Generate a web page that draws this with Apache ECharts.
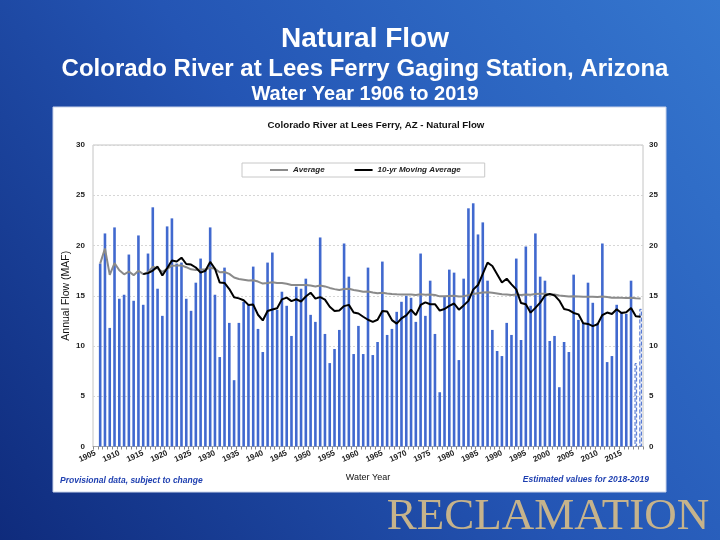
<!DOCTYPE html>
<html>
<head>
<meta charset="utf-8">
<script src="https://cdn.jsdelivr.net/npm/echarts@6/dist/echarts.min.js"></script>
<style>
html,body{margin:0;padding:0;width:720px;height:540px;overflow:hidden;}
#c{width:720px;height:540px;}
</style>
</head>
<body>
<div id="c"></div>
<script>
// ---- data ----
const firstYear = 1905, lastYear = 2019;
const years = [];
for (let y = firstYear; y <= lastYear; y++) years.push(String(y));

// Annual natural flow (MAF), water years 1906-2019
const flow = [
 18.2,21.2,11.8,21.8,14.7,15.1,19.1,14.5,21.0,14.1,
 19.2,23.8,15.7,13.0,21.9,22.7,18.2,18.3,14.7,13.5,
 16.3,18.7,17.6,21.8,15.1,8.9,17.8,12.3,6.6,12.3,
 14.4,14.1,17.9,11.7,9.4,18.3,19.3,13.6,15.4,14.0,
 11.0,15.9,15.7,16.7,13.1,12.4,20.8,11.2,8.3,9.7,
 11.6,20.2,16.9,9.2,12.0,9.2,17.8,9.1,10.4,18.4,
 11.1,11.7,13.4,14.4,15.0,14.8,12.4,19.2,13.0,16.5,
 11.2,5.4,14.9,17.6,17.3,8.6,16.7,23.7,24.2,21.1,
 22.3,16.5,11.6,9.5,9.0,12.3,11.1,18.7,10.6,19.9,
 14.0,21.2,16.9,16.5,10.5,11.0,5.9,10.4,9.4,17.1,
 12.6,12.3,16.3,14.3,12.3,20.2,8.4,9.0,14.1,13.4,
 13.2,16.5,8.3,13.7
];
// Gray "Average" line, 1906-2019
const average = [
 18.20,19.70,17.07,18.25,17.54,17.13,17.41,17.05,17.49,17.15,
 17.34,17.88,17.71,17.37,17.67,17.99,18.00,18.02,17.84,17.63,
 17.56,17.61,17.61,17.79,17.68,17.34,17.36,17.18,16.81,16.66,
 16.59,16.51,16.55,16.41,16.21,16.27,16.35,16.28,16.26,16.20,
 16.07,16.07,16.06,16.08,16.01,15.93,16.03,15.93,15.78,15.66,
 15.58,15.67,15.69,15.57,15.50,15.39,15.43,15.32,15.24,15.29,
 15.22,15.17,15.14,15.13,15.13,15.12,15.08,15.14,15.11,15.13,
 15.07,14.94,14.94,14.98,15.01,14.92,14.95,15.06,15.17,15.25,
 15.33,15.35,15.30,15.23,15.16,15.13,15.08,15.12,15.07,15.13,
 15.11,15.18,15.20,15.21,15.16,15.12,15.02,14.98,14.92,14.94,
 14.92,14.89,14.91,14.90,14.88,14.93,14.87,14.81,14.81,14.79,
 14.78,14.79,14.74,14.73
];
// Black "10-yr Moving Average" line, 1915-2019
const movingAvg = [
 17.15,17.25,17.51,17.90,17.02,17.74,18.50,18.41,18.79,18.16,
 18.10,17.81,17.30,17.49,18.37,17.69,16.31,16.27,15.67,14.86,
 14.74,14.55,14.09,14.12,13.11,12.54,13.48,13.63,13.76,14.64,
 14.81,14.47,14.65,14.43,14.93,15.30,14.71,14.86,14.62,13.91,
 13.48,13.54,13.97,14.09,13.34,13.23,12.91,12.61,12.40,12.61,
 13.48,13.43,12.58,12.23,12.75,13.05,13.61,13.07,14.08,14.34,
 14.15,14.16,13.53,13.68,14.00,14.23,13.61,14.04,14.49,15.61,
 16.07,17.18,18.29,17.96,17.15,16.32,16.69,16.13,15.63,14.27,
 14.15,13.32,13.79,14.32,15.02,15.17,15.04,14.52,13.69,13.57,
 13.29,13.15,12.26,12.20,11.98,12.16,13.08,13.33,13.19,13.66,
 13.29,13.35,13.77,12.97,12.91
];
const estimatedYears = ['2018','2019'];
const yTicks = [0,5,10,15,20,25,30];

// ---- build series data aligned to the category axis ----
const barColor = '#4169cf';
const barData = years.map(function(y){
  const i = Number(y) - 1906;
  if (i < 0) return null;
  const v = flow[i];
  if (estimatedYears.indexOf(y) >= 0) {
    return {value: v, itemStyle: {color: '#e4eaf8', borderColor: '#4a70d0', borderWidth: 1, borderType: 'dashed'}};
  }
  return v;
});
const avgData = years.map(function(y){
  const i = Number(y) - 1906;
  return i < 0 ? null : average[i];
});
const maData = years.map(function(y){
  const i = Number(y) - 1915;
  return i < 0 ? null : movingAvg[i];
});

const chart = echarts.init(document.getElementById('c'), null, {renderer: 'canvas'});
const F = 'Liberation Sans, Arial, sans-serif';
chart.setOption({
  backgroundColor: new echarts.graphic.LinearGradient(0, 1, 1, 0, [
    {offset: 0, color: '#0f2b7c'},
    {offset: 0.5, color: '#2455b4'},
    {offset: 1, color: '#3577cf'}
  ]),
  animation: false,
  title: [
    {text: 'Natural Flow', left: 360, textAlign: 'center', top: 20,
     textStyle: {color: '#fff', fontSize: 28, fontWeight: 'bold', fontFamily: F}},
    {text: 'Colorado River at Lees Ferry Gaging Station, Arizona', left: 360, textAlign: 'center', top: 52,
     textStyle: {color: '#fff', fontSize: 24, fontWeight: 'bold', fontFamily: F}},
    {text: 'Water Year 1906 to 2019', left: 360, textAlign: 'center', top: 79,
     textStyle: {color: '#fff', fontSize: 20, fontWeight: 'bold', fontFamily: F}},
    {text: 'Colorado River at Lees Ferry, AZ - Natural Flow', left: 371, textAlign: 'center', top: 115,
     textStyle: {color: '#111', fontSize: 9.7, fontWeight: 'bold', fontFamily: F}}
  ],
  graphic: [
    {type: 'rect', z: -100, shape: {x: 53, y: 107, width: 613, height: 385},
     style: {fill: '#ffffff', stroke: '#c9d3ea', lineWidth: 1}},
    {type: 'text', z: 100, style: {text: 'Provisional data, subject to change', x: 60, y: 481,
     font: 'italic bold 8.5px ' + F, fill: '#1e3fb0', verticalAlign: 'middle', align: 'left'}},
    {type: 'text', z: 100, style: {text: 'Estimated values for 2018-2019', x: 649, y: 480,
     font: 'italic bold 8.5px ' + F, fill: '#1e3fb0', verticalAlign: 'middle', align: 'right'}},
    {type: 'text', z: 100, style: {text: 'RECLAMATION', x: 548, y: 517,
     font: '45px Liberation Serif, Times New Roman, serif', fill: '#c6b38b', verticalAlign: 'middle', align: 'center'}}
  ],
  legend: {
    data: ['Average', '10-yr Moving Average'],
    left: 242, top: 163,
    backgroundColor: '#ffffff',
    borderColor: '#c8c8c8', borderWidth: 1,
    padding: [3, 24, 3, 28],
    icon: 'rect',
    itemGap: 30, itemWidth: 18, itemHeight: 2,
    textStyle: {fontSize: 8, fontStyle: 'italic', fontWeight: 'bold', color: '#222', fontFamily: F}
  },
  grid: {left: 93, right: 77, top: 145, bottom: 93.5, show: true, borderColor: '#c4c4c4', borderWidth: 1, backgroundColor: 'transparent'},
  xAxis: {
    type: 'category', data: years,
    name: 'Water Year', nameLocation: 'middle', nameGap: 27,
    nameTextStyle: {fontSize: 9, color: '#111', fontFamily: F},
    axisLine: {lineStyle: {color: '#aaa'}},
    axisTick: {show: true, interval: 0, length: 3, lineStyle: {color: '#888'}},
    axisLabel: {interval: 4, rotate: 25, fontSize: 8, fontWeight: 'bold', color: '#222', fontFamily: F, margin: 6},
    splitLine: {show: false}
  },
  yAxis: [
    {type: 'value', min: yTicks[0], max: yTicks[yTicks.length - 1], interval: 5, position: 'left',
     name: 'Annual Flow (MAF)', nameLocation: 'middle', nameGap: 21, nameMoveOverlap: false,
     nameTextStyle: {fontSize: 10.5, color: '#111', fontFamily: F},
     axisLine: {show: false}, axisTick: {show: false},
     axisLabel: {fontSize: 8, fontWeight: 'bold', color: '#222', fontFamily: F, margin: 8},
     splitLine: {lineStyle: {color: '#d6d6d6', type: [2, 2]}}},
    {type: 'value', min: yTicks[0], max: yTicks[yTicks.length - 1], interval: 5, position: 'right',
     axisLine: {show: false}, axisTick: {show: false},
     axisLabel: {fontSize: 8, fontWeight: 'bold', color: '#222', fontFamily: F, margin: 6},
     splitLine: {show: false}}
  ],
  series: [
    {name: 'Natural Flow', type: 'bar', data: barData, barWidth: 2.6, itemStyle: {color: barColor}, z: 1},
    {name: 'Average', type: 'line', data: avgData, symbol: 'none', showSymbol: false,
     lineStyle: {color: '#8a8a8a', width: 2}, itemStyle: {color: '#8a8a8a'}, z: 3},
    {name: '10-yr Moving Average', type: 'line', data: maData, symbol: 'none', showSymbol: false,
     lineStyle: {color: '#000000', width: 2}, itemStyle: {color: '#000000'}, z: 4}
  ]
});
</script>
</body>
</html>
